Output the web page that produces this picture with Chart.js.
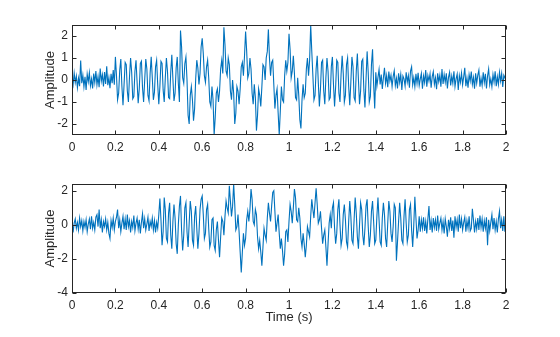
<!DOCTYPE html>
<html><head><meta charset="utf-8">
<script src="https://cdn.jsdelivr.net/npm/chart.js@4/dist/chart.umd.min.js"></script>
<style>
html,body{margin:0;padding:0;background:#fff;}
#wrap{position:relative;width:560px;height:337px;background:#fff;}
canvas{position:absolute;left:0;}
</style></head><body>
<div id="wrap">
<canvas id="c1" width="560" height="168" style="top:0"></canvas>
<canvas id="c2" width="560" height="169" style="top:168px"></canvas>
</div>
<script>
const sampleStep = 0.005; // seconds between samples
const xTicks = [0,0.2,0.4,0.6,0.8,1,1.2,1.4,1.6,1.8,2];
const topYTicks = [-2,-1,0,1,2];
const bottomYTicks = [-4,-2,0,2];
const xLabel = 'Time (s)';
const yLabel = 'Amplitude';

const topAmplitude = [
0.05,-0.22,0.31,-0.12,0.18,-0.35,0.08,-0.28,0.88,-0.15,
0.22,-0.31,0.14,-0.45,0.27,-0.08,0.33,-0.26,0.05,-0.38,
0.29,-0.12,0.41,-0.22,0.16,-0.33,0.52,-0.05,0.24,-0.29,
0.36,-0.18,0.62,-0.24,0.11,-0.37,0.28,-0.14,0.45,-0.21,
1.05,0.2,-0.9,-0.6,0.45,0.95,-0.3,-1.15,-0.2,0.8,
0.7,-0.5,-1.0,0.15,1.0,0.35,-0.85,-0.75,0.4,0.9,
-0.1,-1.05,-0.4,0.75,0.85,-0.35,-1.0,0.0,0.95,0.5,
-0.7,-0.95,0.3,1.05,0.1,-0.9,-0.55,0.6,0.9,-0.2,
-1.1,-0.3,0.85,0.75,-0.45,-1.0,0.1,1.0,0.4,-0.8,
-0.85,0.35,1.15,0.05,-0.95,-0.6,0.55,1.05,-0.15,-1.0,
2.25,1.5,0.1,-0.15,0.75,1.05,0.0,-1.6,-2.0,-0.7,
-0.3,-0.9,-1.85,-1.3,0.05,0.9,0.55,-0.2,0.3,1.5,
1.9,1.2,0.2,-0.1,0.6,0.9,0.1,-1.0,-1.2,-0.3,
-0.9,-2.5,-1.7,-0.6,-0.4,-1.0,-0.5,0.5,0.9,0.3,
2.4,1.6,0.4,0.2,1.0,0.7,-0.5,-0.9,0.0,-0.6,
-2.0,-1.5,-0.3,-0.5,-1.1,-0.4,0.6,0.8,0.2,1.1,
2.2,1.3,0.1,0.3,1.0,0.5,-0.6,-1.1,-0.2,-0.8,
-2.3,-1.6,-0.4,-0.7,-1.2,-0.3,0.7,0.6,0.0,1.0,
1.3,2.3,1.0,0.2,0.8,0.9,-0.2,-1.3,-0.7,-0.4,
-1.5,-2.5,-1.4,-0.3,-0.9,-1.0,0.2,0.9,0.4,0.8,
2.1,1.4,0.1,0.4,1.1,0.3,-0.8,-0.9,0.1,-0.7,
-1.8,-2.2,-0.9,-0.2,-0.8,-0.6,0.5,1.0,0.2,0.9,
2.5,1.3,0.2,-0.9,-0.7,0.5,1.1,-0.1,-1.2,-0.4,
0.8,0.9,-0.5,-1.1,0.1,1.0,0.4,-0.9,-0.8,0.6,
1.05,-0.2,-1.2,-0.3,0.9,0.8,-0.6,-1.0,0.25,1.1,
0.3,-1.0,-0.7,0.7,1.0,-0.3,-1.15,-0.1,1.05,0.6,
-0.8,-0.95,0.4,1.2,0.0,-1.1,-0.5,0.85,0.95,-0.45,
-1.25,0.05,1.3,0.35,-1.0,-0.75,0.7,1.4,-0.2,-1.3,
0.35,-0.28,0.12,0.48,-0.2,0.25,-0.41,0.1,0.55,-0.15,
0.2,-0.33,0.38,-0.05,0.22,-0.3,0.15,0.42,-0.25,0.08,
-0.38,0.3,-0.12,0.25,-0.45,0.18,0.05,-0.28,0.35,-0.1,
0.2,-0.35,0.4,0.6,-0.22,0.1,-0.3,0.28,-0.15,0.33,
-0.25,0.05,0.3,-0.4,0.18,-0.12,0.45,-0.3,0.2,-0.05,
0.28,-0.35,0.15,0.38,-0.2,0.1,-0.42,0.3,-0.08,0.22,
-0.3,0.5,-0.18,0.25,-0.1,0.3,-0.38,0.12,0.35,-0.25,
0.18,-0.15,0.4,-0.3,0.05,0.27,-0.45,0.2,-0.1,0.32,
-0.22,0.15,0.55,-0.28,0.1,-0.35,0.25,-0.05,0.38,-0.2,
0.12,-0.4,0.3,-0.15,0.22,0.45,-0.3,0.08,-0.25,0.35,
-0.12,0.28,-0.38,0.18,0.5,-0.22,0.05,-0.3,0.25,-0.1,
0.4,-0.28,0.15,-0.2,0.35,-0.05,0.3,-0.32,0.22,0.1,
-0.05
];

const bottomAmplitude = [
0.3,-0.45,0.1,0.35,-0.2,0.15,-0.3,0.4,-0.1,0.25,
-0.35,0.2,-0.15,0.3,-0.4,0.05,0.35,-0.25,0.5,-0.2,
0.15,-0.3,0.45,0.6,-0.1,0.9,-0.2,0.3,-0.45,0.2,
-0.1,0.35,-0.3,0.15,-0.5,-0.8,0.25,-0.15,0.4,-0.3,
0.2,0.45,0.9,-0.2,0.3,-0.4,0.1,0.5,-0.25,0.35,
-0.3,0.6,-0.1,0.25,-0.45,0.2,-0.15,0.55,-0.35,0.1,
0.4,-0.25,0.3,-0.5,0.15,0.65,-0.2,0.35,-0.3,0.05,
0.45,-0.35,0.2,-0.1,0.4,-0.3,0.25,-0.45,0.15,-0.2,
0.6,1.55,0.3,-1.2,-0.4,1.6,0.9,-0.8,-1.0,0.7,
1.3,-0.6,-1.4,0.2,1.2,0.4,-1.1,-1.7,0.0,1.1,
1.7,-0.3,-1.5,-0.6,1.0,1.3,-0.4,-1.3,0.1,1.4,
0.8,-0.9,-1.2,0.5,1.1,-0.2,-1.4,-0.5,0.9,1.5,
1.7,0.6,-0.8,-0.5,0.9,1.2,-0.2,-1.3,-1.0,0.3,
0.4,-1.2,-1.5,-0.3,0.2,-0.9,-1.9,-0.7,0.4,0.2,
-0.6,0.5,1.4,1.0,0.7,2.3,1.4,0.5,1.1,2.4,
1.2,-0.3,-0.1,0.6,-0.4,-1.6,-2.8,-1.6,-0.5,-1.2,
-0.8,0.3,0.8,0.2,0.9,2.1,1.5,0.2,0.0,0.9,
0.6,-0.7,-1.4,-0.9,-1.6,-2.4,-1.3,-0.2,-0.6,-0.9,
0.4,1.3,0.7,0.2,1.1,1.9,2.0,0.8,-0.4,0.1,
0.6,-0.5,-1.4,-0.8,-1.5,-2.4,-1.7,-0.4,-0.3,-1.0,
0.2,1.2,0.8,0.1,1.0,2.1,1.6,0.3,0.2,1.0,
0.4,-0.8,-1.3,-0.5,-1.1,-1.9,-1.2,-0.1,-0.4,-0.7,
0.5,1.5,0.9,0.4,1.3,2.15,1.2,0.1,0.3,0.8,
-0.2,-1.1,-0.6,-0.3,-1.3,-2.4,-1.1,0.1,0.6,-0.2,
1.0,1.3,-0.2,-1.1,-0.5,0.9,1.5,0.0,-1.2,-0.8,
0.6,1.2,0.3,-1.0,-1.3,0.2,1.4,0.5,-0.9,-1.1,
0.3,1.6,0.7,-0.7,-1.4,0.0,1.3,0.9,-0.6,-1.2,
-0.2,1.1,1.5,-0.1,-1.3,-0.6,0.8,1.4,0.2,-1.1,
-0.9,0.5,1.6,0.3,-1.0,-1.2,0.4,1.3,0.6,-0.8,
-1.3,0.1,1.4,0.8,-0.5,-1.0,-0.1,1.2,1.0,-2.1,
-1.0,0.2,1.3,0.4,-0.9,-1.1,0.5,1.5,0.1,-1.0,
-0.6,0.9,1.2,-0.3,-1.3,0.0,1.65,0.4,-0.8,-0.3,
0.5,-0.4,0.3,-0.2,0.45,-0.35,0.2,-0.5,0.35,1.1,
-0.3,0.25,-0.45,0.4,-0.15,0.3,-0.35,0.55,-0.25,0.1,
0.4,-0.3,0.2,-0.5,0.35,-0.1,-0.7,0.3,-0.2,0.45,
-0.35,0.25,-0.75,0.5,-0.15,0.3,-0.4,0.6,-0.2,0.35,
-0.3,0.15,0.45,-0.4,0.25,-0.2,0.5,-0.35,-0.2,0.95,
0.3,-0.45,0.2,-0.25,0.4,-0.3,0.55,-0.15,0.35,-0.4,
0.25,-0.2,0.45,-1.2,0.3,-0.35,0.15,0.6,-0.25,0.4,
-0.3,0.2,-0.45,0.35,0.8,-0.2,0.3,-0.35,0.5,-0.4,
0.1
];

const FONT = "'Liberation Sans', Arial, Helvetica, sans-serif";
const AXIS_COLOR = '#262626';
const LINE_COLOR = '#0072BD';

const matlabAxes = {
  id: 'matlabAxes',
  afterDatasetsDraw(chart) {
    const {ctx, chartArea: a, scales: {x, y}} = chart;
    ctx.save();
    ctx.strokeStyle = AXIS_COLOR;
    ctx.lineWidth = 1;
    const L = Math.round(a.left) + 0.5, R = Math.round(a.right) - 0.5;
    const T = Math.round(a.top) + 0.5, B = Math.round(a.bottom) - 0.5;
    ctx.strokeRect(L, T, R - L, B - T);
    ctx.beginPath();
    x.ticks.forEach(t => {
      const p = Math.round(x.getPixelForValue(t.value)) + 0.5;
      ctx.moveTo(p, B); ctx.lineTo(p, B - 4);
      ctx.moveTo(p, T); ctx.lineTo(p, T + 4);
    });
    y.ticks.forEach(t => {
      const p = Math.round(y.getPixelForValue(t.value)) + 0.5;
      ctx.moveTo(L, p); ctx.lineTo(L + 4, p);
      ctx.moveTo(R, p); ctx.lineTo(R - 4, p);
    });
    ctx.stroke();
    ctx.restore();
  }
};

function makeChart(id, values, yMin, yMax, yTickValues, padTop, xAxisHeight, showXTitle) {
  const pts = values.map((v, i) => ({x: i * sampleStep, y: v}));
  return new Chart(document.getElementById(id), {
    type: 'line',
    data: {datasets: [{data: pts, borderColor: LINE_COLOR, borderWidth: 1.1, pointRadius: 0, tension: 0, fill: false}]},
    options: {
      responsive: false, animation: false, devicePixelRatio: 1,
      layout: {padding: {left: 0, right: 54, top: padTop, bottom: 0}},
      plugins: {legend: {display: false}, tooltip: {enabled: false}},
      scales: {
        x: {
          type: 'linear', min: 0, max: 2,
          afterBuildTicks: s => { s.ticks = xTicks.map(v => ({value: v})); },
          afterFit: s => { s.height = xAxisHeight; },
          grid: {display: false, drawTicks: false},
          border: {display: false},
          ticks: {autoSkip: false, maxRotation: 0, padding: 5, color: AXIS_COLOR, font: {family: FONT, size: 12}, callback: v => String(v)},
          title: {display: showXTitle, text: xLabel, color: AXIS_COLOR, font: {family: FONT, size: 13}, padding: {top: 0, bottom: 12}}
        },
        y: {
          type: 'linear', min: yMin, max: yMax,
          afterBuildTicks: s => { s.ticks = yTickValues.map(v => ({value: v})); },
          afterFit: s => { s.width = 72; },
          grid: {display: false, drawTicks: false},
          border: {display: false},
          ticks: {padding: 4, color: AXIS_COLOR, font: {family: FONT, size: 12}, callback: v => String(v)},
          title: {display: true, text: yLabel, color: AXIS_COLOR, font: {family: FONT, size: 13}, padding: {top: 43, bottom: 0}}
        }
      }
    },
    plugins: [matlabAxes]
  });
}

makeChart('c1', topAmplitude, -2.5, 2.5, topYTicks, 25, 33, false);
makeChart('c2', bottomAmplitude, -4, 2.4, bottomYTicks, 16, 44, true);
</script>
</body></html>
